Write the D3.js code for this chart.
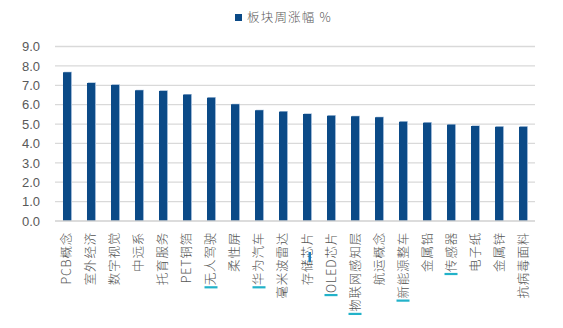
<!DOCTYPE html>
<html>
<head>
<meta charset="utf-8">
<script src="https://cdn.jsdelivr.net/npm/d3@7"></script>
<style>
  html, body { margin: 0; padding: 0; background: #fff; }
  svg { display: block; }
</style>
</head>
<body>
<svg id="chart" width="563" height="328"></svg>
<script>
// Weekly change by sector (%)
const categories = ["PCB概念", "室外经济", "数字视觉", "中远系", "托育服务", "PET铜箔", "无人驾驶", "柔性屏", "华为汽车", "毫米波雷达",
  "存储芯片", "OLED芯片", "物联网感知层", "航运概念", "新能源整车", "金属铅", "传感器", "电子纸", "金属锌", "抗病毒面料"];
const values = [7.67, 7.12, 7.02, 6.74, 6.71, 6.52, 6.36, 6.02, 5.71, 5.64,
  5.52, 5.43, 5.40, 5.35, 5.12, 5.07, 4.97, 4.90, 4.86, 4.86];
const yTicks = [0, 1, 2, 3, 4, 5, 6, 7, 8, 9];
const seriesName = "板块周涨幅 %";
// labels carrying a cyan edit marker at their start
const markedLabels = ["无人驾驶", "华为汽车", "OLED芯片", "物联网感知层", "新能源整车", "传感器"];

const svg = d3.select("#chart");
const plotLeft = 55, plotRight = 535, plotTop = 46.5, plotBottom = 221;
const barColor = "#0b4a87";
const textColor = "#595959";
const cjk = "'Noto Sans CJK SC', 'Noto Sans', sans-serif";

const x = d3.scaleBand().domain(categories).range([plotLeft, plotRight]).paddingInner(0.667).paddingOuter(0.333);
const y = d3.scaleLinear().domain([0, 9]).range([plotBottom, plotTop]);

// horizontal gridlines
svg.append("g").selectAll("line").data(yTicks.filter(d => d > 0)).join("line")
  .attr("x1", plotLeft).attr("x2", plotRight)
  .attr("y1", d => y(d)).attr("y2", d => y(d))
  .attr("stroke", "#d9d9d9").attr("stroke-width", 1.3);

// y axis labels
const yAxis = d3.axisLeft(y).tickValues(yTicks).tickFormat(d3.format(".1f")).tickSize(0).tickPadding(15);
const gy = svg.append("g").attr("transform", `translate(${plotLeft},0)`).call(yAxis);
gy.select(".domain").remove();
gy.selectAll("text").attr("fill", textColor).attr("font-size", 13)
  .attr("font-family", "'Liberation Sans', Arial, sans-serif");

// bars with a faint light edge
const bars = svg.append("g");
bars.selectAll("rect.edge").data(values).join("rect").attr("class", "edge")
  .attr("x", (d, i) => x(categories[i]) + 1)
  .attr("y", d => y(d) - 0.5)
  .attr("width", x.bandwidth())
  .attr("height", d => plotBottom - y(d) + 0.5)
  .attr("fill", "#9db8d6");
bars.selectAll("rect.bar").data(values).join("rect").attr("class", "bar")
  .attr("x", (d, i) => x(categories[i]))
  .attr("y", d => y(d))
  .attr("width", x.bandwidth())
  .attr("height", d => plotBottom - y(d))
  .attr("fill", barColor);

// baseline
svg.append("line").attr("x1", plotLeft).attr("x2", plotRight).attr("y1", plotBottom).attr("y2", plotBottom)
  .attr("stroke", "#d0d0d0").attr("stroke-width", 1.3);

// category labels, rotated
const labelTop = 232;
const gx = svg.append("g");
const labels = gx.selectAll("text").data(categories).join("text")
  .attr("transform", d => `translate(${x(d) + x.bandwidth() / 2},${labelTop}) rotate(-90)`)
  .attr("text-anchor", "end")
  .attr("dy", "0.36em")
  .attr("font-family", cjk)
  .attr("font-size", 12.5)
  .attr("font-weight", 300)
  .attr("letter-spacing", 0.8)
  .attr("fill", "#555")
  .text(d => d);

// cyan markers under the start of marked labels
labels.each(function (d) {
  if (!markedLabels.includes(d)) return;
  const len = this.getComputedTextLength();
  const cx = x(d) + x.bandwidth() / 2;
  gx.append("rect")
    .attr("x", cx - 6.5).attr("y", labelTop + len + 1)
    .attr("width", 13).attr("height", 2.2)
    .attr("fill", "#22b2c9");
});
// small marker inside the 存储芯片 label
{
  const cx = x("存储芯片") + x.bandwidth() / 2;
  gx.append("rect").attr("x", cx + 1.5).attr("y", 252).attr("width", 2.5).attr("height", 10).attr("fill", "#1f7fbf");
}

// legend
const legend = svg.append("g").attr("transform", "translate(235,13)");
legend.append("rect").attr("width", 7).attr("height", 7).attr("y", 1).attr("fill", barColor);
legend.append("text").attr("x", 12).attr("y", 8.5)
  .attr("font-family", cjk).attr("font-size", 12.5).attr("font-weight", 300)
  .attr("letter-spacing", 1.2).attr("fill", textColor)
  .text(seriesName);
</script>
</body>
</html>
